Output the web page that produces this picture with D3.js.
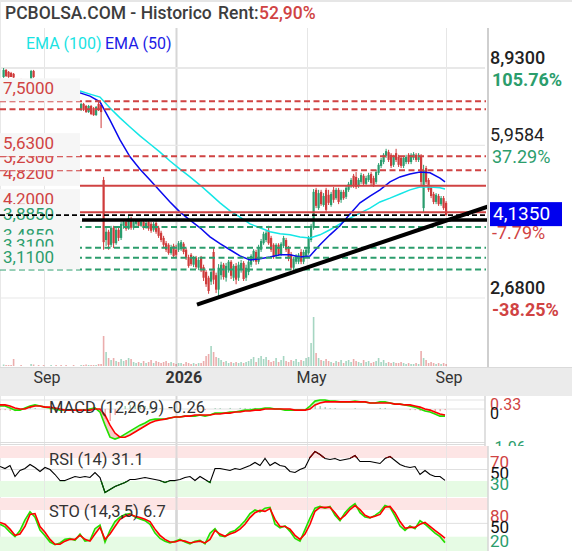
<!DOCTYPE html>
<html><head><meta charset="utf-8">
<script src="https://cdn.jsdelivr.net/npm/d3@7/dist/d3.min.js"></script>
<style>
html,body{margin:0;padding:0;background:#fff;}
svg{display:block;}
text{font-family:Roboto,"Noto Sans",Arial,sans-serif;}
</style></head>
<body>
<svg id="chart" width="572" height="551"></svg>
<script>
// ================= DATA =================
const candleIdx = [1,2,3,4,5,8,12,13,15,17,20,22,24,26,29,32,33,34,35,36,37,38,39,40,41,
42,43,44,45,46,47,48,49,50,51,52,53,54,55,56,57,58,59,60,61,62,63,64,65,66,67,68,69,70,71,
72,73,74,75,76,77,78,79,80,81,82,83,84,85,86,87,88,89,90,91,92,93,94,95,96,97,98,99,100,101,
102,103,104,105,106,107,108,109,110,111,112,113,114,115,116,117,118,119,120,121,
122,123,124,125,126,127,128,129,130,131,132,133,134,135,136,137,138,139,140,141,
142,143,144,145,146,147,148,149,150,151,152,153,154,155,156,157,158,159,160,161,
162,163,164,165,166,167,168,169,170,171,172,173,174,175,176,177,178];
const openP = [8.52,8.84,8.75,8.70,8.66,8.40,8.44,8.79,8.30,8.22,8.10,8.18,8.00,7.90,7.84,7.17,7.40,7.32,7.09,7.32,7.24,6.98,7.40,7.36,4.97,
3.63,3.79,3.54,3.87,3.57,3.83,3.67,3.91,3.99,3.85,
4.05,3.87,3.95,4.01,3.91,3.99,3.87,3.99,3.95,3.83,
3.97,3.87,3.77,3.67,3.57,3.54,3.39,3.52,3.45,3.45,
3.46,3.56,3.45,3.32,3.36,3.19,3.31,3.14,3.31,3.15,
3.07,2.98,2.92,3.41,3.02,2.80,3.02,3.19,2.98,3.10,
3.24,2.98,3.17,2.98,3.10,3.22,2.98,3.07,3.19,3.27,
3.41,3.24,3.45,3.57,3.63,3.81,3.67,3.54,3.34,3.54,
3.37,3.52,3.63,3.48,3.37,3.14,3.24,3.24,3.41,3.24,
3.34,3.39,3.63,3.87,4.72,4.29,4.67,4.36,4.72,4.60,
4.36,4.72,4.52,4.72,4.48,4.67,4.55,4.72,4.82,5.08,
5.05,4.82,4.92,5.08,4.87,4.97,5.13,5.02,4.92,5.16,
5.35,5.46,5.64,5.75,5.67,5.38,5.72,5.61,5.58,5.35,
5.46,5.67,5.46,5.58,5.67,5.52,5.64,4.29,5.29,4.97,
4.77,4.62,4.43,4.57,4.38,4.52,4.41];
const highP = [8.93,8.88,8.79,8.75,8.70,8.44,8.84,8.84,8.34,8.26,8.20,8.20,8.04,7.95,7.88,7.44,7.44,7.36,7.36,7.36,7.28,7.32,7.55,7.44,5.05,
3.87,3.83,3.91,3.91,3.87,3.89,3.99,4.03,4.03,4.14,
4.10,4.03,4.05,4.05,4.05,4.03,4.01,4.03,3.99,3.99,
4.01,3.91,3.81,3.71,3.61,3.57,3.54,3.56,3.54,3.61,
3.63,3.59,3.48,3.36,3.39,3.34,3.34,3.32,3.34,3.19,
3.10,3.01,3.10,3.48,3.06,3.20,3.24,3.22,3.22,3.27,
3.27,3.20,3.22,3.24,3.27,3.25,3.19,3.31,3.37,3.46,
3.45,3.54,3.65,3.79,3.81,3.91,3.71,3.57,3.57,3.57,
3.59,3.71,3.67,3.52,3.41,3.32,3.37,3.39,3.46,3.45,
3.48,3.71,3.95,4.74,4.77,4.72,4.72,4.64,4.77,4.72,
4.67,4.79,4.77,4.77,4.72,4.72,4.82,4.92,5.02,5.13,
5.18,5.02,5.16,5.13,5.08,5.16,5.18,5.08,5.24,5.43,
5.58,5.72,5.85,5.82,5.72,5.67,5.85,5.67,5.64,5.64,
5.67,5.72,5.72,5.75,5.72,5.72,5.69,5.38,5.35,5.02,
4.82,4.67,4.64,4.62,4.57,4.57,4.45];
const lowP = [8.48,8.52,8.48,8.52,8.48,8.30,8.43,8.48,8.20,8.10,8.08,8.00,7.88,7.82,7.70,7.13,7.13,7.06,7.06,6.98,6.95,6.95,7.13,6.52,3.45,
3.52,3.45,3.50,3.48,3.54,3.61,3.63,3.85,3.81,3.83,
3.83,3.83,3.91,3.87,3.89,3.83,3.85,3.81,3.77,3.79,
3.75,3.67,3.59,3.50,3.41,3.36,3.36,3.31,3.32,3.41,
3.43,3.37,3.27,3.14,3.17,3.15,3.12,3.10,3.07,2.93,
2.84,2.74,2.87,2.88,2.75,2.68,2.95,2.95,2.92,3.06,
2.96,2.93,2.88,2.93,3.06,2.93,2.93,3.02,3.15,3.24,
3.19,3.20,3.41,3.54,3.59,3.54,3.41,3.29,3.31,3.34,
3.34,3.48,3.41,3.25,3.10,3.10,3.20,3.20,3.20,3.20,
3.31,3.36,3.59,3.83,4.29,4.25,4.34,4.32,4.20,4.36,
4.32,4.41,4.48,4.38,4.41,4.48,4.50,4.67,4.77,4.77,
4.74,4.77,4.87,4.82,4.82,4.92,4.84,4.79,4.87,5.10,
5.29,5.40,5.58,5.46,5.29,5.32,5.46,5.32,5.29,5.29,
5.40,5.40,5.40,5.52,5.46,5.46,4.84,4.20,4.87,4.67,
4.52,4.38,4.38,4.34,4.34,4.25,4.12];
const closeP = [8.84,8.56,8.52,8.52,8.50,8.32,8.79,8.52,8.22,8.12,8.18,8.02,7.90,7.84,7.72,7.40,7.17,7.09,7.32,7.02,6.98,7.28,7.17,7.09,3.59,
3.79,3.54,3.87,3.57,3.83,3.67,3.95,3.99,3.85,4.07,
3.87,3.99,4.01,3.91,3.99,3.87,3.97,3.85,3.81,3.95,
3.79,3.71,3.63,3.54,3.45,3.39,3.50,3.34,3.36,3.57,
3.59,3.41,3.31,3.17,3.20,3.31,3.15,3.27,3.10,2.98,
2.88,2.78,3.07,2.95,2.80,3.14,3.19,2.99,3.17,3.24,
3.01,3.17,2.95,3.19,3.22,2.96,3.14,3.24,3.34,3.43,
3.24,3.48,3.61,3.75,3.77,3.57,3.45,3.32,3.54,3.37,
3.56,3.67,3.45,3.29,3.14,3.29,3.34,3.36,3.24,3.41,
3.45,3.67,3.91,4.67,4.34,4.64,4.38,4.57,4.25,4.41,
4.62,4.48,4.72,4.43,4.67,4.52,4.77,4.87,4.97,4.82,
4.79,4.97,5.10,4.87,5.02,5.10,4.89,4.84,5.18,5.38,
5.52,5.67,5.78,5.52,5.35,5.61,5.52,5.38,5.35,5.58,
5.61,5.46,5.67,5.69,5.52,5.67,4.92,5.24,4.92,4.72,
4.57,4.43,4.60,4.38,4.52,4.29,4.135];
const volume = [60,40,40,40,280,40,80,60,40,40,40,40,40,40,40,40,40,60,40,40,40,40,80,80,1200,
560,320,240,320,200,160,280,200,240,320,
280,160,120,160,120,200,120,160,240,120,
200,160,120,160,200,120,160,120,80,120,
120,80,160,120,80,120,80,120,120,200,
400,480,800,560,360,320,240,160,200,120,
160,120,160,120,160,120,160,200,280,360,
160,320,400,280,360,240,160,200,320,160,
240,400,200,160,240,200,280,160,240,200,
320,360,920,1960,520,320,240,200,280,200,
160,120,200,160,240,120,200,240,160,280,
200,160,120,240,160,200,120,160,200,320,
160,240,120,160,120,160,120,120,160,120,
80,120,80,80,120,80,600,320,240,120,
160,120,80,120,80,120,80];

const emaIdx = [32,36,40,44,48,52,56,60,64,68,72,76,80,84,88,92,96,100,104,108,112,116,120,124,128,132,136,140,144,148,152,156,160,164,168,172,176,178];
const ema100 = [7.92,7.79,7.67,7.24,6.88,6.56,6.26,6.00,5.75,5.49,5.26,5.05,4.84,4.62,4.41,4.23,4.09,3.95,3.87,3.79,3.75,3.73,3.69,3.67,3.73,3.83,3.95,4.07,4.18,4.29,4.43,4.52,4.62,4.72,4.79,4.79,4.77,4.74];
const ema50 = [7.84,7.71,7.48,6.80,6.13,5.61,5.26,4.97,4.69,4.43,4.20,4.03,3.87,3.69,3.56,3.45,3.34,3.27,3.29,3.32,3.36,3.36,3.32,3.34,3.54,3.73,3.91,4.16,4.41,4.57,4.72,4.92,5.05,5.13,5.18,5.16,5.02,4.92];

const levelVal = [4.82,5.23,5.63,7.2,7.5,4.2,3.885,3.485,3.31,3.11];
const levelLbl = ["4,8200","5,2300","5,6300","","7,5000","4,2000","3,8850","3,4850","3,3100","3,1100"];
const levelKind = ["manual","auto","auto","auto","auto","manual","auto","auto","auto","auto"];

const trendIdx = [78.8,195];
const trendVal = [2.59,4.32];
const hLineIdx = [32.8,195];
const hLineVal = 4.03;

const tickIdx = [17.6,70.4,122.8,178.4];
const tickLbl = ["Sep","2026","May","Sep"];
const priceTicks = [8.93,5.9584,4.003,2.68];
const priceTickLbl = ["8,9300","5,9584","","2,6800"];
const pctTickLbl = ["105.76%","37.29%","-7.79%","-38.25%"];
const lastPriceLbl = "4,1350";

const indIdx = [0,2,4,6,8,10,12,14,16,18,20,22,24,26,28,30,32,34,36,38,40,42,44,46,48,50,52,54,56,58,
60,62,64,66,68,70,72,74,76,78,80,82,84,86,88,90,92,94,96,98,100,102,104,106,108,110,112,114,116,118,
120,122,124,126,128,130,132,134,136,138,140,142,144,146,148,150,152,154,156,158,160,162,164,166,168,170,172,174,176,178];
const macdLine = [0.11,0.11,0.04,-0.04,-0.04,0.04,0.11,0.15,0.11,0.07,
0.04,0,-0.04,-0.04,-0.04,-0.04,-0.04,-0.04,0,0.04,
-0.11,-0.59,-1.03,-1.10,-1.03,-0.92,-0.81,-0.70,-0.59,-0.51,
-0.40,-0.37,-0.37,-0.37,-0.33,-0.29,-0.29,-0.26,-0.26,-0.26,
-0.22,-0.26,-0.22,-0.15,-0.15,-0.15,-0.11,-0.11,-0.07,-0.04,
-0.04,0,0,0.04,0.04,0,0,-0.04,-0.04,-0.04,
-0.04,-0.04,0.11,0.29,0.33,0.33,0.29,0.29,0.26,0.26,
0.26,0.29,0.26,0.26,0.22,0.22,0.26,0.26,0.22,0.18,
0.18,0.15,0.11,0.07,0,-0.07,-0.11,-0.18,-0.26,-0.26];
const macdSignal = [0.15,0.15,0.11,0.04,0,0,0.07,0.11,0.11,0.07,
0.07,0.04,0,-0.04,-0.04,-0.04,-0.04,-0.04,-0.04,0,
0,-0.22,-0.59,-0.88,-1.03,-1.03,-0.95,-0.84,-0.73,-0.62,
-0.51,-0.44,-0.40,-0.37,-0.33,-0.29,-0.29,-0.26,-0.26,-0.22,
-0.22,-0.22,-0.22,-0.18,-0.18,-0.15,-0.15,-0.11,-0.11,-0.07,
-0.07,-0.04,-0.04,0,0,0,0,0,0,-0.04,
-0.04,-0.04,0,0.15,0.22,0.26,0.26,0.26,0.26,0.26,
0.26,0.26,0.26,0.26,0.22,0.22,0.22,0.22,0.22,0.18,
0.18,0.15,0.15,0.11,0.07,0,-0.04,-0.11,-0.18,-0.22];
const rsi = [55.2,51.7,57,37.8,48.3,51.7,58.7,53.5,46.5,53.5,
50,41.3,30.9,30.9,34.3,37.8,36.1,37.8,36.1,44.8,
36.1,10,15.2,20.4,23.9,27.4,32.6,32.6,34.3,36.1,
34.3,32.6,30.9,27.4,30.9,30.9,32.6,36.1,37.8,30.9,
37.8,32.6,27.4,51.7,51.7,50,48.3,51.7,50,53.5,
57,62.2,57,69.1,57,62.2,57,55.2,46.5,44.8,
50,53.5,70.9,81.3,76.1,69.1,67.4,69.1,65.7,67.4,
69.1,74.3,63.9,63.9,63.9,62.2,60.4,69.1,72.6,65.7,
58.7,55.2,53.5,55.2,41.3,48.3,41.3,37.8,37.8,31.1];
const stoK = [48,42,30,20,34,58,76,64,35,22,
8,2,6,14,16,12,26,10,12,38,
46,8,34,54,64,70,72,64,60,56,
48,28,16,10,6,10,14,8,4,10,
12,4,28,38,22,20,30,34,44,56,
72,80,76,84,86,48,40,44,32,16,
10,36,62,84,88,84,88,68,56,74,
86,94,74,64,62,68,76,90,86,66,
44,34,44,38,56,48,38,28,20,6.7];
const stoD = [52,48,37,23,26,43,70,72,43,30,
14,3,3,10,14,14,23,14,10,26,
41,14,26,43,59,66,70,66,63,59,
54,37,23,14,8,8,12,10,6,8,
10,6,14,34,26,21,26,30,37,48,
63,74,79,77,83,59,43,43,37,23,
14,26,48,77,86,86,86,74,59,68,
81,90,81,68,63,66,70,86,88,74,
54,39,41,41,48,52,43,34,26,17];

// ================= DRAW =================
const W = 572, H = 551, PR = 488;
const UP = "#2a9d6e", DN = "#cf3b3b";
const RED = "#d04343", GRN = "#2b9d6c";
const svg = d3.select("#chart");
svg.append("rect").attr("width", W).attr("height", H).attr("fill", "#fff");

const defs = svg.append("defs");
function clip(id, x, y, w, h) {
  defs.append("clipPath").attr("id", id).append("rect").attr("x", x).attr("y", y).attr("width", w).attr("height", h);
}
clip("cMain", 0, 28, PR, 339);
clip("cMacd", 0, 396, 485, 47);
clip("cRsi", 0, 446, PR, 51);
clip("cSto", 0, 498, PR, 53);
clip("cMacdLbl", 485, 396, 87, 50);

const x = d3.scaleLinear().domain([0, 195.2]).range([0, PR]);
const y = d3.scaleLog().domain([2.68, 8.93]).range([298, 68]);
const yv = d3.scaleLinear().domain([0, 2000]).range([366, 316]);
const my = d3.scaleLinear().domain([-1.06, 0.33]).range([438, 400]);
const ry = d3.scaleLinear().domain([30, 70]).range([481, 458]);
const sy = d3.scaleLinear().domain([20, 80]).range([536.7, 510]);

// frame lines
svg.append("line").attr("x1", 0).attr("x2", W).attr("y1", 1).attr("y2", 1).attr("stroke", "#e6e6e6").attr("stroke-width", 2);
svg.append("line").attr("x1", 0.5).attr("x2", 0.5).attr("y1", 0).attr("y2", H).attr("stroke", "#e8e8e8").attr("stroke-width", 1);

// title
svg.append("text").attr("x", 5).attr("y", 18.5).attr("font-size", 17.5).attr("font-weight", 500).attr("fill", "#3d3d3d").text("PCBOLSA.COM - Historico");
svg.append("text").attr("x", 218).attr("y", 18.5).attr("font-size", 17.5).attr("font-weight", 500).attr("fill", "#3d3d3d").text("Rent:");
svg.append("text").attr("x", 259).attr("y", 18.5).attr("font-size", 17.5).attr("font-weight", 500).attr("fill", RED).text("52,90%");

// x-axis band
svg.append("rect").attr("x", 0).attr("y", 367).attr("width", W).attr("height", 29).attr("fill", "#ebebeb");
svg.append("line").attr("x1", 0).attr("x2", W).attr("y1", 367.5).attr("y2", 367.5).attr("stroke", "#dadada");

// vertical grid
tickIdx.forEach((t, i) => {
  const xx = Math.round(x(t)) + 0.5;
  const sw = i === 1 ? 2 : 1, col = i === 1 ? "#d6d6d6" : "#e6e6e6";
  svg.append("line").attr("x1", xx).attr("x2", xx).attr("y1", 28).attr("y2", 367).attr("stroke", col).attr("stroke-width", sw);
  svg.append("line").attr("x1", xx).attr("x2", xx).attr("y1", 396).attr("y2", H).attr("stroke", col).attr("stroke-width", sw);
});
// horizontal grid (price ticks)
priceTicks.forEach((v, i) => {
  svg.append("line").attr("x1", 0).attr("x2", 485).attr("y1", y(v)).attr("y2", y(v))
    .attr("stroke", "#e8e8e8").attr("stroke-width", i === 0 ? 2 : 1.2);
});

// x axis labels
const xAxis = d3.axisBottom(x).tickValues(tickIdx).tickFormat((d, i) => tickLbl[i]).tickSize(0);
const gx = svg.append("g").attr("transform", "translate(0,367)").call(xAxis);
gx.select(".domain").remove();
gx.selectAll("text").attr("text-anchor", "start").attr("dx", -11).attr("y", 16).attr("dy", 0)
  .attr("font-size", 16).attr("fill", "#333").attr("font-family", "Roboto")
  .attr("font-weight", (d, i) => i === 1 ? 700 : 400);

// ---- main pane ----
const gM = svg.append("g").attr("clip-path", "url(#cMain)");
const cd = candleIdx.map((t, i) => ({ t, o: openP[i], h: highP[i], l: lowP[i], c: closeP[i], v: volume[i] }));
const col = d => d.c >= d.o ? UP : DN;

// volume
gM.append("g").selectAll("rect").data(cd).join("rect")
  .attr("x", d => x(d.t) + 0.3).attr("width", 1.6)
  .attr("y", d => yv(d.v)).attr("height", d => 366 - yv(d.v))
  .attr("fill", col).attr("opacity", 0.42);

// candles
gM.append("g").selectAll("line").data(cd).join("line")
  .attr("x1", d => x(d.t) + 1.1).attr("x2", d => x(d.t) + 1.1)
  .attr("y1", d => y(d.h)).attr("y2", d => y(d.l))
  .attr("stroke", col).attr("stroke-width", 1);
gM.append("g").selectAll("rect").data(cd).join("rect")
  .attr("x", d => x(d.t)).attr("width", 2.2)
  .attr("y", d => y(Math.max(d.o, d.c)))
  .attr("height", d => Math.max(1, Math.abs(y(d.o) - y(d.c))))
  .attr("fill", col);

// EMA lines
const emaLine = arr => d3.line().x((d, i) => x(emaIdx[i])).y(d => y(d))(arr);
gM.append("path").attr("d", emaLine(ema100)).attr("fill", "none").attr("stroke", "#14e6e6").attr("stroke-width", 1.5);
gM.append("path").attr("d", emaLine(ema50)).attr("fill", "none").attr("stroke", "#0a0aee").attr("stroke-width", 1.5);

// levels
const lastClose = closeP[closeP.length - 1];
levelVal.forEach((v, i) => {
  const c = v > lastClose ? RED : GRN;
  const yy = y(v);
  const manual = levelKind[i] === "manual";
  gM.append("line").attr("x1", manual ? 80 : 0).attr("x2", 486).attr("y1", yy).attr("y2", yy)
    .attr("stroke", c).attr("stroke-width", 2).attr("stroke-dasharray", manual ? null : "6,3.5");
  if (levelLbl[i]) {
    gM.append("rect").attr("x", 0).attr("y", yy - 23).attr("width", 80).attr("height", 23).attr("fill", "#f6f6f6");
    gM.append("text").attr("x", 3).attr("y", yy - 7).attr("font-size", 17).attr("fill", c).text(levelLbl[i]);
  }
});

// user trend lines
gM.append("line").attr("x1", x(hLineIdx[0])).attr("x2", x(hLineIdx[1])).attr("y1", y(hLineVal)).attr("y2", y(hLineVal))
  .attr("stroke", "#000").attr("stroke-width", 3.5);
gM.append("line").attr("x1", x(trendIdx[0])).attr("x2", x(trendIdx[1])).attr("y1", y(trendVal[0])).attr("y2", y(trendVal[1]))
  .attr("stroke", "#000").attr("stroke-width", 4);
// last price dashed
gM.append("line").attr("x1", 0).attr("x2", 486).attr("y1", y(lastClose)).attr("y2", y(lastClose))
  .attr("stroke", "#000").attr("stroke-width", 1.6).attr("stroke-dasharray", "5,3");

// EMA legend
svg.append("text").attr("x", 26).attr("y", 48.5).attr("font-size", 16).attr("fill", "#1ae3e3").text("EMA (100)");
svg.append("text").attr("x", 105).attr("y", 48.5).attr("font-size", 16).attr("fill", "#1c1ce6").text("EMA (50)");

// right border of main
svg.append("line").attr("x1", 488).attr("x2", 488).attr("y1", 28).attr("y2", 367).attr("stroke", "#cfcfcf").attr("stroke-width", 2);

// right price axis
const yAxis = d3.axisRight(y).tickValues(priceTicks).tickFormat((d, i) => priceTickLbl[i]).tickSize(0);
const gy = svg.append("g").attr("transform", "translate(490,0)").call(yAxis);
gy.select(".domain").remove();
gy.selectAll("text").attr("x", 0).attr("dy", 0).attr("y", -5).attr("text-anchor", "start")
  .attr("font-size", 18).attr("font-family", "Roboto").attr("fill", "#222")
  .attr("font-weight", (d, i) => (i === 0 || i === 3) ? 500 : 400);
priceTicks.forEach((v, i) => {
  svg.append("text").attr("x", 492).attr("y", y(v) + 18).attr("font-size", 18)
    .attr("font-weight", (i === 0 || i === 3) ? 700 : 400)
    .attr("fill", v >= 4.34 ? GRN : RED).text(pctTickLbl[i]);
});
// last price box
svg.append("rect").attr("x", 490).attr("y", y(lastClose) - 13).attr("width", 72).attr("height", 24).attr("fill", "#0000ee");
svg.append("text").attr("x", 493).attr("y", y(lastClose) + 5).attr("font-size", 19).attr("fill", "#fff").text(lastPriceLbl);

// ---- MACD pane ----
svg.append("line").attr("x1", 0).attr("x2", 485).attr("y1", 442.5).attr("y2", 442.5).attr("stroke", "#dcdcdc");
svg.append("line").attr("x1", 0).attr("x2", 485).attr("y1", 444.5).attr("y2", 444.5).attr("stroke", "#dcdcdc");
const gMa = svg.append("g").attr("clip-path", "url(#cMacd)");
[0.33, 0].forEach(v => gMa.append("line").attr("x1", 0).attr("x2", 485).attr("y1", my(v)).attr("y2", my(v)).attr("stroke", "#e3e3e3"));
function fillBetween(g, sc, a, b, posC, negC) {
  for (let k = 0; k < indIdx.length - 1; k++) {
    const pts = [[x(indIdx[k]), sc(a[k])], [x(indIdx[k + 1]), sc(a[k + 1])], [x(indIdx[k + 1]), sc(b[k + 1])], [x(indIdx[k]), sc(b[k])]];
    const s = (a[k] - b[k]) + (a[k + 1] - b[k + 1]);
    if (s === 0) continue;
    g.append("path").attr("d", d3.line()(pts) + "Z").attr("fill", s > 0 ? posC : negC);
  }
}
fillBetween(gMa, my, macdLine, macdSignal, "#c9f5c0", "#f8caca");
// histogram
gMa.append("g").selectAll("rect").data(indIdx).join("rect")
  .attr("x", (d) => x(d) - 0.5).attr("width", 1.4)
  .attr("y", (d, i) => Math.min(my(0), my(macdLine[i] - macdSignal[i])))
  .attr("height", (d, i) => Math.abs(my(0) - my(macdLine[i] - macdSignal[i])))
  .attr("fill", (d, i) => macdLine[i] - macdSignal[i] >= 0 ? "#9fcfb4" : "#eea0a0");
const indLine = (sc, arr) => d3.line().x((d, i) => x(indIdx[i])).y(d => sc(d))(arr);
gMa.append("path").attr("d", indLine(my, macdLine)).attr("fill", "none").attr("stroke", "#22e000").attr("stroke-width", 1.6);
gMa.append("path").attr("d", indLine(my, macdSignal)).attr("fill", "none").attr("stroke", "#ff0000").attr("stroke-width", 1.6);
svg.append("text").attr("x", 49).attr("y", 413).attr("font-size", 16.5).attr("fill", "#333").text("MACD (12,26,9) " + macdLine[macdLine.length - 1].toFixed(2));
svg.append("line").attr("x1", 485).attr("x2", 485).attr("y1", 396).attr("y2", 446).attr("stroke", "#d6d6d6").attr("stroke-width", 1.5);
const gMl = svg.append("g").attr("clip-path", "url(#cMacdLbl)");
const macdAxis = d3.axisRight(my).tickValues([0.33, 0, -1.06]).tickFormat(d => d === 0 ? "0" : d.toFixed(2)).tickSize(0);
const gma = gMl.append("g").attr("transform", "translate(490,0)").call(macdAxis);
gma.select(".domain").remove();
gma.selectAll("text").attr("x", 0).attr("dy", 0).attr("y", (d) => d === -1.06 ? 14 : 9.5).attr("text-anchor", "start")
  .attr("font-size", 16).attr("font-family", "Roboto")
  .attr("fill", d => d > 0 ? RED : (d < 0 ? GRN : "#111"));

// ---- RSI pane ----
svg.append("rect").attr("x", 0).attr("y", 446).attr("width", PR).attr("height", ry(70) - 446).attr("fill", "#fde5e5");
svg.append("rect").attr("x", 0).attr("y", ry(30)).attr("width", PR).attr("height", 497 - ry(30)).attr("fill", "#e6fbe4");
svg.append("line").attr("x1", 0).attr("x2", PR).attr("y1", ry(50)).attr("y2", ry(50)).attr("stroke", "#e0e0e0");
tickIdx.forEach((t, i) => {
  const xx = Math.round(x(t)) + 0.5;
  svg.append("line").attr("x1", xx).attr("x2", xx).attr("y1", 446).attr("y2", H)
    .attr("stroke", i === 1 ? "#d6d6d6" : "#e6e6e6").attr("stroke-width", i === 1 ? 2 : 1).attr("opacity", 0.8);
});
clip("cRsiHi", 0, 440, PR, ry(70) - 440);
clip("cRsiLo", 0, ry(30), PR, 30);
const gR = svg.append("g").attr("clip-path", "url(#cRsi)");
gR.append("path").attr("d", indLine(ry, rsi)).attr("fill", "none").attr("stroke", "#000").attr("stroke-width", 1.1);
gR.append("g").attr("clip-path", "url(#cRsiHi)").append("path").attr("d", indLine(ry, rsi)).attr("fill", "none").attr("stroke", "#7a0000").attr("stroke-width", 1.3);
gR.append("g").attr("clip-path", "url(#cRsiLo)").append("path").attr("d", indLine(ry, rsi)).attr("fill", "none").attr("stroke", "#005a00").attr("stroke-width", 1.3);
svg.append("text").attr("x", 49).attr("y", 465).attr("font-size", 16.5).attr("fill", "#333").text("RSI (14) " + rsi[rsi.length - 1].toFixed(1));

// ---- STO pane ----
svg.append("rect").attr("x", 0).attr("y", 498).attr("width", PR).attr("height", sy(80) - 498).attr("fill", "#fde5e5");
svg.append("rect").attr("x", 0).attr("y", sy(20)).attr("width", PR).attr("height", H - sy(20)).attr("fill", "#e6fbe4");
svg.append("line").attr("x1", 0).attr("x2", PR).attr("y1", sy(50)).attr("y2", sy(50)).attr("stroke", "#e0e0e0");
tickIdx.forEach((t, i) => {
  const xx = Math.round(x(t)) + 0.5;
  svg.append("line").attr("x1", xx).attr("x2", xx).attr("y1", 498).attr("y2", H)
    .attr("stroke", i === 1 ? "#d6d6d6" : "#e6e6e6").attr("stroke-width", i === 1 ? 2 : 1).attr("opacity", 0.8);
});
const gS = svg.append("g").attr("clip-path", "url(#cSto)");
fillBetween(gS, sy, stoK, stoD, "#c9f5c0", "#f8caca");
gS.append("path").attr("d", indLine(sy, stoK)).attr("fill", "none").attr("stroke", "#22e000").attr("stroke-width", 1.6);
gS.append("path").attr("d", indLine(sy, stoD)).attr("fill", "none").attr("stroke", "#ff0000").attr("stroke-width", 1.6);
svg.append("text").attr("x", 49).attr("y", 517).attr("font-size", 16.5).attr("fill", "#333").text("STO (14,3,5) " + stoK[stoK.length - 1].toFixed(1));

svg.append("line").attr("x1", 488).attr("x2", 488).attr("y1", 446).attr("y2", H).attr("stroke", "#d6d6d6").attr("stroke-width", 1.5);

// RSI / STO right labels
const rAxis = d3.axisRight(ry).tickValues([70, 50, 30]).tickFormat(d3.format("d")).tickSize(0);
const gra = svg.append("g").attr("transform", "translate(490,0)").call(rAxis);
gra.select(".domain").remove();
gra.selectAll("text").attr("x", 0).attr("dy", 0).attr("y", d => d === 70 ? 9 : 8.5).attr("text-anchor", "start")
  .attr("font-size", 17).attr("font-family", "Roboto").attr("fill", d => d === 70 ? RED : (d === 30 ? GRN : "#111"));
const sAxis = d3.axisRight(sy).tickValues([80, 50, 20]).tickFormat(d3.format("d")).tickSize(0);
const gsa = svg.append("g").attr("transform", "translate(490,0)").call(sAxis);
gsa.select(".domain").remove();
gsa.selectAll("text").attr("x", 0).attr("dy", 0).attr("y", d => d === 80 ? 11 : (d === 50 ? 9 : 10)).attr("text-anchor", "start")
  .attr("font-size", 17).attr("font-family", "Roboto").attr("fill", d => d === 80 ? RED : (d === 20 ? GRN : "#111"));
</script>
</body></html>
